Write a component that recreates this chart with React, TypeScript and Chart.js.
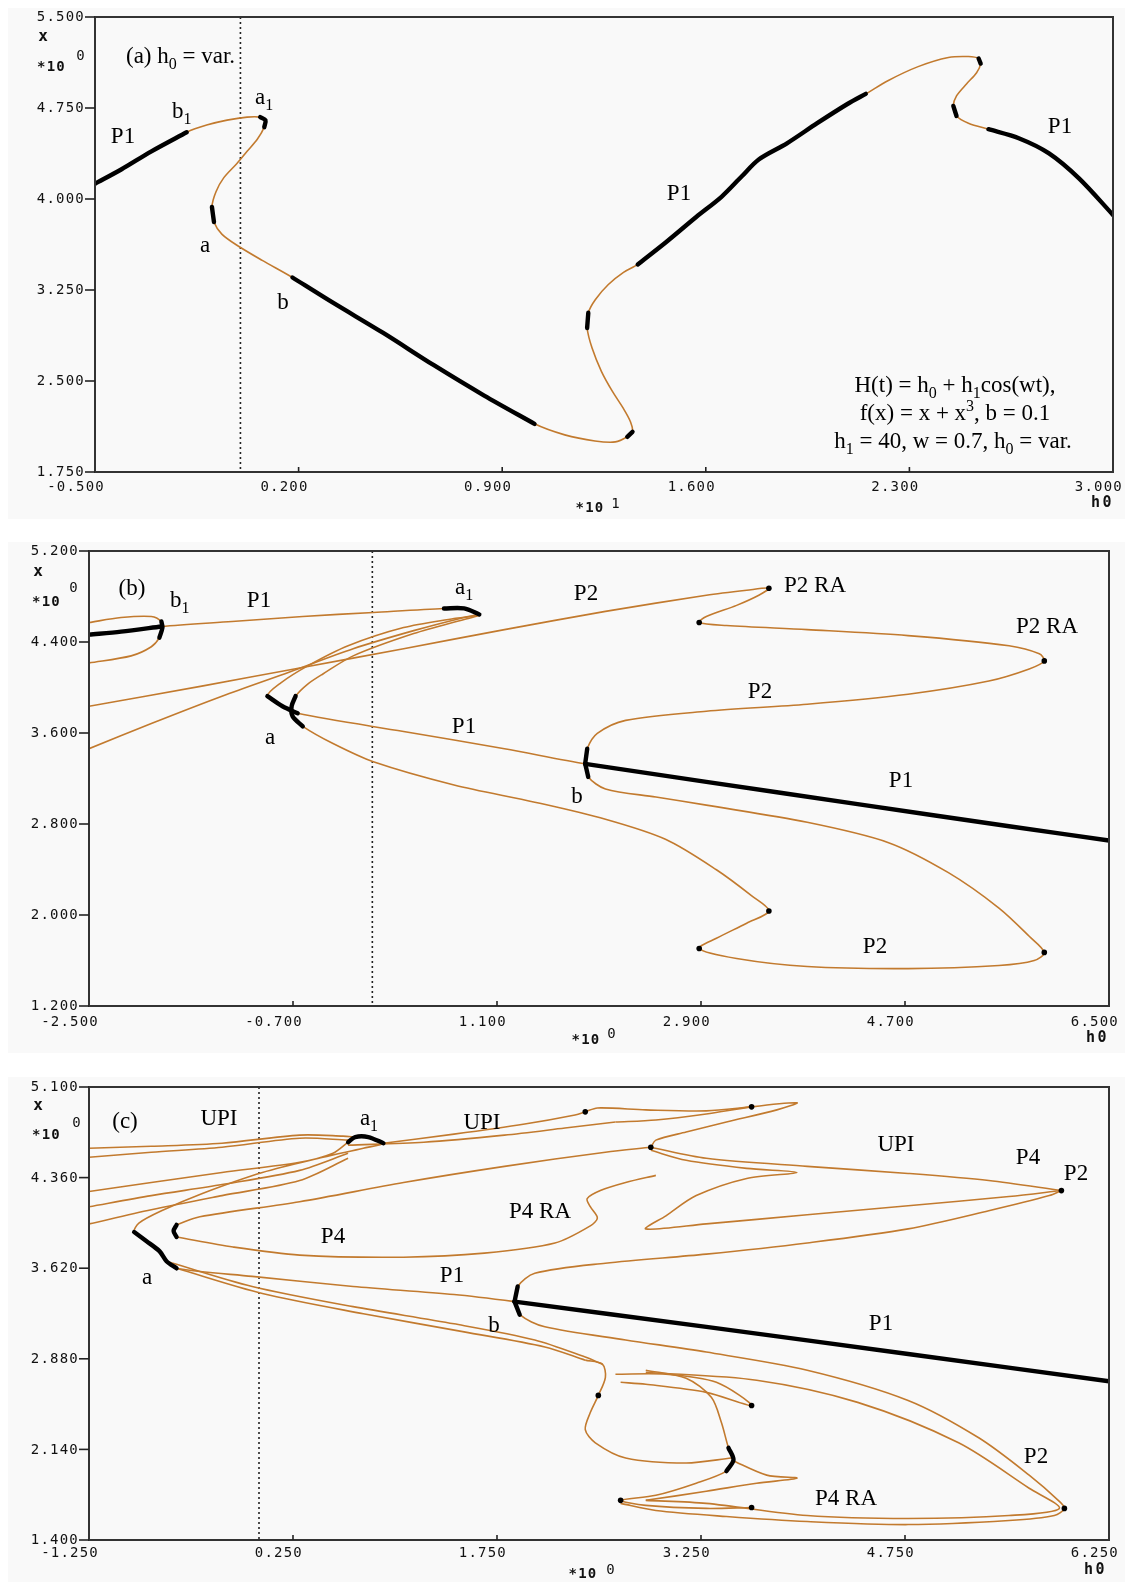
import React, { useEffect, useRef } from "react";
import { Chart, registerables } from "chart.js";

Chart.register(...registerables);

type Pt = [number, number];
interface Path { pts: Pt[]; stable?: [number, number][] }

const ORANGE = "#c27a2e";
const BLACK = "#000000";

// ---------------- Panel (a) ----------------
const aXTicks = [-0.5, 0.2, 0.9, 1.6, 2.3, 3.0];
const aYTicks = [1.75, 2.5, 3.25, 4.0, 4.75, 5.5];
const aPath: Pt[] = [
  [-0.500, 4.126], [-0.410, 4.243], [-0.306, 4.393], [-0.185, 4.550], [-0.116, 4.609], [-0.046, 4.650],
  [0.023, 4.675], [0.068, 4.675], [0.086, 4.650], [0.082, 4.592], [0.058, 4.492], [0.023, 4.393],
  [-0.012, 4.293], [-0.057, 4.176], [-0.084, 4.060], [-0.098, 3.935], [-0.091, 3.810], [-0.064, 3.711],
  [-0.012, 3.619], [0.075, 3.494], [0.179, 3.353], [0.318, 3.145], [0.491, 2.896], [0.665, 2.630],
  [0.838, 2.380], [1.011, 2.147], [1.115, 2.056], [1.219, 2.006], [1.289, 1.998], [1.330, 2.040],
  [1.348, 2.081], [1.341, 2.164], [1.317, 2.272], [1.279, 2.414], [1.241, 2.580], [1.209, 2.771],
  [1.192, 2.937], [1.196, 3.062], [1.220, 3.170], [1.265, 3.295], [1.317, 3.395], [1.366, 3.461],
  [1.463, 3.644], [1.567, 3.852], [1.654, 4.018], [1.723, 4.185], [1.782, 4.326], [1.879, 4.459],
  [1.983, 4.625], [2.087, 4.783], [2.150, 4.866], [2.226, 4.975], [2.330, 5.091], [2.434, 5.166],
  [2.503, 5.174], [2.538, 5.158], [2.545, 5.116], [2.531, 5.041], [2.497, 4.950], [2.462, 4.850],
  [2.451, 4.767], [2.462, 4.684], [2.503, 4.625], [2.572, 4.575], [2.676, 4.501], [2.780, 4.376],
  [2.884, 4.168], [3.000, 3.869],
];
const aStable: [number, number][] = [[0, 3], [7, 9], [15, 16], [20, 25], [29, 30], [36, 37], [41, 50], [55, 56], [60, 61], [63, 67]];

// ---------------- Panel (b) ----------------
const bXTicks = [-2.5, -0.7, 1.1, 2.9, 4.7, 6.5];
const bYTicks = [1.2, 2.0, 2.8, 3.6, 4.4, 5.2];
const bP1: Pt[] = [
  [-2.500, 4.465], [-2.217, 4.491], [-1.861, 4.536], [-1.238, 4.580], [-0.614, 4.624], [0.009, 4.660],
  [0.632, 4.695], [0.810, 4.695], [0.944, 4.642], [0.721, 4.607], [0.276, 4.527], [-0.214, 4.367],
  [-0.570, 4.190], [-0.810, 4.039], [-0.926, 3.924], [-0.793, 3.835], [-0.659, 3.773], [0.276, 3.613],
  [1.166, 3.462], [1.878, 3.329], [2.947, 3.170], [4.282, 2.975], [5.618, 2.780], [6.500, 2.655],
];
const bLoop: Pt[] = [
  [-2.500, 4.571], [-2.217, 4.615], [-1.950, 4.624], [-1.861, 4.580], [-1.852, 4.527], [-1.879, 4.438],
  [-1.950, 4.358], [-2.128, 4.278], [-2.500, 4.216],
];
const bUpper: Pt[] = [
  [1.878, 3.329], [1.896, 3.462], [1.985, 3.596], [2.235, 3.711], [2.947, 3.791], [3.837, 3.853],
  [4.727, 3.941], [5.440, 4.057], [5.796, 4.163], [5.929, 4.234], [5.885, 4.296], [5.618, 4.367],
  [4.727, 4.456], [3.837, 4.509], [3.125, 4.545], [2.884, 4.571], [2.947, 4.624], [3.214, 4.722],
  [3.410, 4.811], [3.499, 4.873], [3.303, 4.855], [2.947, 4.811], [2.057, 4.669], [1.166, 4.509],
  [0.276, 4.341], [-0.641, 4.172], [-1.505, 4.012], [-2.500, 3.835],
];
const bLower: Pt[] = [
  [1.878, 3.329], [1.905, 3.214], [2.057, 3.108], [2.502, 3.037], [2.947, 2.966], [3.837, 2.815],
  [4.549, 2.638], [5.083, 2.372], [5.529, 2.061], [5.796, 1.813], [5.929, 1.671], [5.840, 1.600],
  [5.529, 1.556], [4.727, 1.529], [3.837, 1.547], [3.214, 1.618], [2.884, 1.706], [3.036, 1.795],
  [3.303, 1.928], [3.499, 2.035], [3.348, 2.168], [3.036, 2.398], [2.591, 2.664], [2.057, 2.842],
  [1.433, 2.992], [0.721, 3.143], [0.009, 3.347], [-0.347, 3.507], [-0.614, 3.658], [-0.703, 3.746],
  [-0.712, 3.835], [-0.677, 3.924], [-0.570, 4.030], [-0.436, 4.119], [-0.169, 4.278], [0.365, 4.474],
  [0.810, 4.598], [0.944, 4.633],
];
const bLine4: Pt[] = [
  [-2.500, 3.462], [-1.950, 3.684], [-1.327, 3.924], [-0.730, 4.137], [-0.169, 4.341], [0.365, 4.500],
  [0.810, 4.616], [0.944, 4.642],
];
const bDots: Pt[] = [[5.929, 4.234], [2.884, 4.571], [3.499, 4.873], [5.929, 1.671], [2.884, 1.706], [3.499, 2.035]];

// ---------------- Panel (c) ----------------
const cXTicks = [-1.25, 0.25, 1.75, 3.25, 4.75, 6.25];
const cYTicks = [1.4, 2.14, 2.88, 3.62, 4.36, 5.1];
const cP1: Pt[] = [
  [-1.250, 4.246], [-0.792, 4.320], [-0.272, 4.402], [0.299, 4.485], [0.544, 4.559], [0.655, 4.649],
  [0.707, 4.691], [0.804, 4.691], [0.915, 4.641], [0.767, 4.600], [0.470, 4.526], [0.025, 4.402],
  [-0.421, 4.229], [-0.717, 4.089], [-0.881, 3.990], [-0.918, 3.916], [-0.829, 3.842], [-0.732, 3.759],
  [-0.680, 3.677], [-0.606, 3.619], [-0.050, 3.553], [0.692, 3.471], [1.434, 3.405], [1.879, 3.347],
  [3.289, 3.141], [4.773, 2.919], [6.250, 2.696],
];
const cTop1: Pt[] = [[-1.250, 4.600], [-0.792, 4.616], [-0.272, 4.641], [0.299, 4.707], [0.618, 4.699], [0.707, 4.691]];
const cTop2: Pt[] = [[-1.250, 4.526], [-0.792, 4.567], [-0.272, 4.608], [0.299, 4.682], [0.655, 4.666]];
const cL4: Pt[] = [[-1.250, 4.122], [-0.792, 4.213], [-0.272, 4.303], [0.299, 4.419], [0.655, 4.559]];
const cL5: Pt[] = [[-1.250, 3.982], [-0.792, 4.097], [-0.272, 4.213], [0.299, 4.336], [0.655, 4.518]];
const cU1: Pt[] = [[0.915, 4.641], [1.434, 4.715], [1.954, 4.798], [2.324, 4.872], [2.399, 4.897], [2.488, 4.929], [2.844, 4.913], [3.289, 4.905], [3.622, 4.938]];
const cU2: Pt[] = [[0.655, 4.625], [1.212, 4.649], [1.805, 4.707], [2.250, 4.765], [2.621, 4.814]];
const cU3: Pt[] = [[-0.606, 3.974], [-0.435, 4.040], [0.299, 4.163], [1.063, 4.320], [1.805, 4.452], [2.547, 4.567], [2.881, 4.608]];
const cU4: Pt[] = [[2.621, 4.814], [2.918, 4.831], [3.289, 4.880], [3.622, 4.938], [3.956, 4.971], [3.808, 4.913], [3.437, 4.814], [3.141, 4.732], [2.918, 4.666], [2.881, 4.608]];
const cR1: Pt[] = [[2.881, 4.608], [3.289, 4.518], [4.031, 4.452], [4.773, 4.394], [5.366, 4.336], [5.900, 4.254]];
const cR2: Pt[] = [[2.881, 4.583], [3.141, 4.501], [3.586, 4.435], [3.956, 4.402], [3.586, 4.353], [3.215, 4.213], [2.992, 4.048], [2.844, 3.941], [3.289, 3.982], [4.031, 4.056], [4.773, 4.130], [5.515, 4.205], [5.900, 4.254]];
const cR3: Pt[] = [[1.879, 3.347], [1.902, 3.471], [2.028, 3.578], [2.547, 3.661], [3.289, 3.735], [4.031, 3.826], [4.773, 3.941], [5.366, 4.089], [5.811, 4.213], [5.900, 4.254]];
const cP4: Pt[] = [[-0.606, 3.875], [-0.191, 3.793], [0.299, 3.727], [1.063, 3.710], [1.657, 3.743], [2.176, 3.826], [2.436, 3.966], [2.488, 4.031], [2.436, 4.122], [2.413, 4.188], [2.510, 4.254], [2.696, 4.320], [2.918, 4.378]];
const cFold2: Pt[] = [[-0.606, 3.875], [-0.628, 3.924], [-0.606, 3.974]];
const cD1a: Pt[] = [[-0.680, 3.677], [-0.050, 3.471], [0.692, 3.306], [1.434, 3.166], [2.028, 3.034], [2.399, 2.894], [2.525, 2.836]];
const cD1b: Pt[] = [[-0.606, 3.619], [0.025, 3.413], [0.767, 3.248], [1.508, 3.100], [2.102, 2.977], [2.399, 2.869]];
const cD2: Pt[] = [[1.879, 3.347], [1.917, 3.240], [2.102, 3.141], [2.696, 3.034], [3.289, 2.935], [4.031, 2.787], [4.773, 2.540], [5.292, 2.235], [5.663, 1.930], [5.885, 1.716], [5.922, 1.658], [5.848, 1.600], [5.515, 1.559], [4.773, 1.526], [4.031, 1.551], [3.437, 1.592], [2.918, 1.641], [2.659, 1.699]];
const cD3: Pt[] = [[2.844, 2.770], [3.659, 2.705], [4.402, 2.524], [5.144, 2.194], [5.663, 1.823], [5.885, 1.658], [5.515, 1.600], [4.773, 1.576], [4.031, 1.600], [3.289, 1.699], [2.844, 1.724]];
const cM1: Pt[] = [[2.399, 2.869], [2.525, 2.836], [2.547, 2.729], [2.495, 2.581], [2.436, 2.441], [2.399, 2.301], [2.473, 2.194], [2.696, 2.070], [3.141, 2.029], [3.474, 2.070]];
const cM2: Pt[] = [[2.621, 2.754], [2.992, 2.754], [3.363, 2.688], [3.622, 2.499], [3.289, 2.606], [2.844, 2.672], [2.659, 2.688]];
const cM3: Pt[] = [[2.844, 2.787], [3.141, 2.721], [3.326, 2.565], [3.400, 2.359], [3.452, 2.153], [3.489, 2.054], [3.437, 1.963], [3.215, 1.864], [2.918, 1.765], [2.659, 1.724], [2.844, 1.683], [3.289, 1.658], [3.622, 1.666]];
const cM4: Pt[] = [[3.474, 2.054], [3.733, 1.930], [3.956, 1.905], [3.659, 1.864], [3.289, 1.798], [2.844, 1.724]];
const cDots: Pt[] = [[5.900, 4.254], [5.922, 1.658], [2.881, 4.608], [3.622, 4.938], [2.495, 2.581], [3.622, 1.666], [2.659, 1.724], [3.622, 2.499], [2.399, 4.897]];

// ---------------- helpers ----------------
interface TextItem { t: string; x: number; y: number; align?: "left" | "center" }
interface PanelCfg {
  top: number; height: number;
  pad: { left: number; top: number; right: number; bottom: number };
  xTicks: number[]; yTicks: number[];
  paths: Path[]; dots: Pt[];
  xLabelDy: number;
  yTitle: { x: [number, number]; ten: [number, number]; exp: [number, number] };
  xTitle: { ten: [number, number]; exp: [number, number]; expText: string; h0: [number, number] };
  texts: TextItem[];
}

const LABEL_SIZE = 23;

function drawRich(ctx: CanvasRenderingContext2D, text: string, x: number, y: number, align: string, size: number) {
  const segs: { t: string; k: number }[] = [];
  let buf = "";
  for (let i = 0; i < text.length; i++) {
    const c = text[i];
    if ((c === "_" || c === "^") && i + 1 < text.length) {
      if (buf) { segs.push({ t: buf, k: 0 }); buf = ""; }
      segs.push({ t: text[i + 1], k: c === "_" ? 1 : 2 });
      i++;
    } else buf += c;
  }
  if (buf) segs.push({ t: buf, k: 0 });
  const big = `${size}px "Liberation Serif"`;
  const small = `${Math.round(size * 0.68)}px "Liberation Serif"`;
  let w = 0;
  for (const s of segs) { ctx.font = s.k ? small : big; w += ctx.measureText(s.t).width; }
  let cx = align === "center" ? x - w / 2 : x;
  ctx.textAlign = "left";
  ctx.textBaseline = "alphabetic";
  ctx.fillStyle = "#000";
  for (const s of segs) {
    ctx.font = s.k ? small : big;
    const dy = s.k === 1 ? size * 0.28 : s.k === 2 ? -size * 0.4 : 0;
    ctx.fillText(s.t, cx, y + dy);
    cx += ctx.measureText(s.t).width;
  }
}

function monoText(ctx: CanvasRenderingContext2D, t: string, x: number, y: number, align: CanvasTextAlign, bold = false, size = 14, spacing = 1.2) {
  ctx.font = `${bold ? "bold " : ""}${size}px "DejaVu Sans Mono"`;
  (ctx as any).letterSpacing = `${spacing}px`;
  ctx.textAlign = align;
  ctx.textBaseline = "middle";
  ctx.fillStyle = "#111";
  ctx.fillText(t, x, y);
  (ctx as any).letterSpacing = "0px";
}

function makePlugin(cfg: PanelCfg) {
  return {
    id: "panelDeco",
    beforeDatasetsDraw(chart: any) {
      const ctx: CanvasRenderingContext2D = chart.ctx;
      const { top, bottom } = chart.chartArea;
      const x0 = chart.scales.x.getPixelForValue(0);
      ctx.save();
      ctx.strokeStyle = "#222";
      ctx.lineWidth = 1.6;
      ctx.setLineDash([2, 3]);
      ctx.beginPath();
      ctx.moveTo(x0, top);
      ctx.lineTo(x0, bottom);
      ctx.stroke();
      ctx.restore();
    },
    afterDraw(chart: any) {
      const ctx: CanvasRenderingContext2D = chart.ctx;
      const { left, right, top, bottom } = chart.chartArea;
      const xs = chart.scales.x, ys = chart.scales.y;
      ctx.save();
      ctx.strokeStyle = "#333";
      ctx.lineWidth = 2;
      ctx.strokeRect(left, top, right - left, bottom - top);
      ctx.lineWidth = 1.6;
      ctx.strokeStyle = "#222";
      for (const v of cfg.yTicks) {
        const py = ys.getPixelForValue(v);
        ctx.beginPath(); ctx.moveTo(left - 10, py); ctx.lineTo(left, py); ctx.stroke();
        monoText(ctx, v.toFixed(3), left - 10, py + 0.5, "right");
      }
      cfg.xTicks.forEach((v, i) => {
        const px = xs.getPixelForValue(v);
        if (i > 0 && i < cfg.xTicks.length - 1) {
          ctx.beginPath(); ctx.moveTo(px, bottom); ctx.lineTo(px, bottom - 5); ctx.stroke();
        }
        monoText(ctx, v.toFixed(3), px + 10, bottom + cfg.xLabelDy, "right");
      });
      // axis titles
      monoText(ctx, "x", cfg.yTitle.x[0], cfg.yTitle.x[1], "center", true, 16, 0);
      monoText(ctx, "*10", cfg.yTitle.ten[0], cfg.yTitle.ten[1], "left", true);
      monoText(ctx, "0", cfg.yTitle.exp[0], cfg.yTitle.exp[1], "center");
      monoText(ctx, "*10", cfg.xTitle.ten[0], cfg.xTitle.ten[1], "center", true);
      monoText(ctx, cfg.xTitle.expText, cfg.xTitle.exp[0], cfg.xTitle.exp[1], "center");
      monoText(ctx, "h0", cfg.xTitle.h0[0], cfg.xTitle.h0[1], "right", true, 15, 2.5);
      for (const t of cfg.texts) drawRich(ctx, t.t, t.x, t.y, t.align ?? "center", LABEL_SIZE);
      ctx.restore();
    },
  };
}

function buildDatasets(paths: Path[], dots: Pt[]) {
  const ds: any[] = [];
  const toXY = (p: Pt) => ({ x: p[0], y: p[1] });
  for (const p of paths) {
    for (const [s, e] of p.stable ?? []) {
      ds.push({
        data: p.pts.slice(s, e + 1).map(toXY), borderColor: BLACK, borderWidth: 4.4,
        pointRadius: 0, tension: 0.3, borderCapStyle: "round", borderJoinStyle: "round", fill: false, order: 0,
      });
    }
  }
  if (dots.length) {
    ds.push({ data: dots.map(toXY), showLine: false, pointRadius: 2.8, pointBackgroundColor: BLACK, pointBorderWidth: 0, order: 0 });
  }
  for (const p of paths) {
    ds.push({ data: p.pts.map(toXY), borderColor: ORANGE, borderWidth: 1.6, pointRadius: 0, tension: 0.3, fill: false, order: 1 });
  }
  return ds;
}

const panelA: PanelCfg = {
  top: 8, height: 511,
  pad: { left: 87, top: 9, right: 12, bottom: 47 },
  xTicks: aXTicks, yTicks: aYTicks,
  paths: [{ pts: aPath, stable: aStable }], dots: [],
  xLabelDy: 15,
  yTitle: { x: [35, 29], ten: [29, 59], exp: [73, 48] },
  xTitle: { ten: [582, 500], exp: [608, 496], expText: "1", h0: [1106, 495] },
  texts: [
    { t: "(a) h_0 = var.", x: 118, y: 55, align: "left" },
    { t: "P1", x: 115, y: 135 },
    { t: "b_1", x: 164, y: 110, align: "left" },
    { t: "a_1", x: 247, y: 96, align: "left" },
    { t: "a", x: 197, y: 244 },
    { t: "b", x: 275, y: 301 },
    { t: "P1", x: 671, y: 192 },
    { t: "P1", x: 1052, y: 125 },
    { t: "H(t) = h_0 + h_1cos(wt),", x: 947, y: 384 },
    { t: "f(x) = x + x^3, b = 0.1", x: 947, y: 412 },
    { t: "h_1 = 40, w = 0.7, h_0 = var.", x: 945, y: 440 },
  ],
};

const panelB: PanelCfg = {
  top: 542, height: 511,
  pad: { left: 81, top: 9, right: 16, bottom: 47 },
  xTicks: bXTicks, yTicks: bYTicks,
  paths: [
    { pts: bP1, stable: [[0, 2], [6, 8], [14, 16], [19, 23]] },
    { pts: bLoop, stable: [[3, 5]] },
    { pts: bUpper, stable: [[0, 1]] },
    { pts: bLower, stable: [[0, 1], [28, 31]] },
    { pts: bLine4 },
  ],
  dots: bDots,
  xLabelDy: 16,
  yTitle: { x: [30, 30], ten: [24, 60], exp: [66, 46] },
  xTitle: { ten: [578, 498], exp: [604, 492], expText: "0", h0: [1101, 496] },
  texts: [
    { t: "(b)", x: 124, y: 53 },
    { t: "b_1", x: 162, y: 65, align: "left" },
    { t: "P1", x: 251, y: 65 },
    { t: "a_1", x: 447, y: 52, align: "left" },
    { t: "P2", x: 578, y: 58 },
    { t: "P2 RA", x: 807, y: 50 },
    { t: "P2 RA", x: 1039, y: 91 },
    { t: "P2", x: 752, y: 156 },
    { t: "P1", x: 456, y: 191 },
    { t: "a", x: 262, y: 202 },
    { t: "b", x: 569, y: 261 },
    { t: "P1", x: 893, y: 245 },
    { t: "P2", x: 867, y: 411 },
  ],
};

const panelC: PanelCfg = {
  top: 1077, height: 505,
  pad: { left: 81, top: 10, right: 16, bottom: 42 },
  xTicks: cXTicks, yTicks: cYTicks,
  paths: [
    { pts: cP1, stable: [[5, 8], [15, 19], [23, 26]] },
    { pts: cTop1 }, { pts: cTop2 }, { pts: cL4 }, { pts: cL5 },
    { pts: cU1 }, { pts: cU2 }, { pts: cU3 }, { pts: cU4 },
    { pts: cR1 }, { pts: cR2 }, { pts: cR3, stable: [[0, 1]] },
    { pts: cP4 }, { pts: cFold2, stable: [[0, 2]] },
    { pts: cD1a }, { pts: cD1b }, { pts: cD2, stable: [[0, 1]] }, { pts: cD3 },
    { pts: cM1 }, { pts: cM2 }, { pts: cM3, stable: [[4, 6]] }, { pts: cM4 },
  ],
  dots: cDots,
  xLabelDy: 13,
  yTitle: { x: [30, 29], ten: [24, 58], exp: [69, 46] },
  xTitle: { ten: [575, 497], exp: [603, 493], expText: "0", h0: [1099, 493] },
  texts: [
    { t: "(c)", x: 117, y: 51 },
    { t: "UPI", x: 211, y: 48 },
    { t: "a_1", x: 361, y: 48 },
    { t: "UPI", x: 474, y: 52 },
    { t: "UPI", x: 888, y: 74 },
    { t: "P4", x: 1020, y: 87 },
    { t: "P2", x: 1068, y: 103 },
    { t: "P4 RA", x: 532, y: 141 },
    { t: "P4", x: 325, y: 166 },
    { t: "P1", x: 444, y: 205 },
    { t: "a", x: 139, y: 207 },
    { t: "b", x: 486, y: 255 },
    { t: "P1", x: 873, y: 253 },
    { t: "P2", x: 1028, y: 386 },
    { t: "P4 RA", x: 838, y: 428 },
  ],
};

const xRanges = [[-0.5, 3.0], [-2.5, 6.5], [-1.25, 6.25]];
const yRanges = [[1.75, 5.5], [1.2, 5.2], [1.4, 5.1]];

function Panel({ cfg, idx }: { cfg: PanelCfg; idx: number }) {
  const ref = useRef<HTMLCanvasElement>(null);
  useEffect(() => {
    if (!ref.current) return;
    const chart = new Chart(ref.current, {
      type: "line",
      data: { datasets: buildDatasets(cfg.paths, cfg.dots) },
      options: {
        responsive: false,
        maintainAspectRatio: false,
        animation: false,
        events: [],
        layout: { padding: cfg.pad },
        scales: {
          x: { type: "linear", min: xRanges[idx][0], max: xRanges[idx][1], display: false },
          y: { type: "linear", min: yRanges[idx][0], max: yRanges[idx][1], display: false },
        },
        plugins: { legend: { display: false }, tooltip: { enabled: false } },
      },
      plugins: [makePlugin(cfg)],
    } as any);
    return () => chart.destroy();
  }, []);
  return (
    <div style={{ position: "absolute", left: 8, top: cfg.top, width: 1117, height: cfg.height, background: "#f9f9f9" }}>
      <canvas ref={ref} width={1117} height={cfg.height} style={{ display: "block" }} />
    </div>
  );
}

export default function App() {
  return (
    <div style={{ position: "absolute", left: 0, top: 0, width: 1125, height: 1582, background: "#ffffff", overflow: "hidden" }}>
      <Panel cfg={panelA} idx={0} />
      <Panel cfg={panelB} idx={1} />
      <Panel cfg={panelC} idx={2} />
    </div>
  );
}
